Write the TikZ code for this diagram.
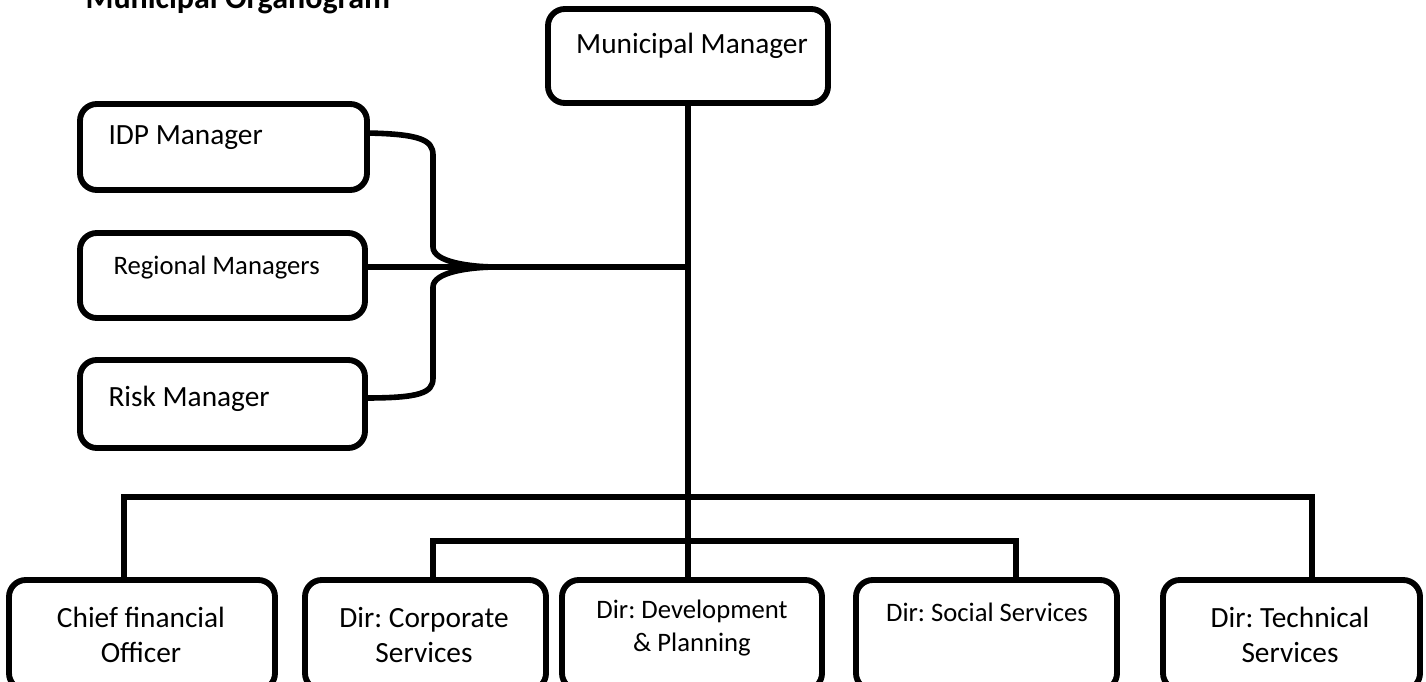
\documentclass[tikz,border=0pt]{standalone}
\usepackage{fontspec}
\setmainfont{Carlito}
\frenchspacing
\begin{document}
\begin{tikzpicture}[x=0.375pt,y=-0.375pt,
  box/.style={draw=black,line width=2.2pt,rounded corners=6.3pt,fill=white,
    inner sep=0pt,outer sep=0pt,anchor=north west},
  conn/.style={draw=black,line width=2.1pt},
  big/.style={font=\fontsize{11}{13.4}\selectfont,inner sep=0pt,align=center},
  small/.style={font=\fontsize{10}{12.2}\selectfont,inner sep=0pt,align=center},
  ttl/.style={font=\fontsize{12}{14}\selectfont\bfseries,inner sep=0pt,anchor=base west}]
\useasboundingbox (0,0) rectangle (1426,681);
% title (cut off at the top, as in the reference)
\node[ttl] (title) at (85,9) {Municipal Organogram};
% boxes
\node[box,minimum width=105pt,minimum height=35.25pt] (mm) at (548,9) {};
\node[box,minimum width=107.625pt,minimum height=32.25pt] (idp) at (80,104) {};
\node[box,minimum width=106.875pt,minimum height=31.875pt] (reg) at (80,233) {};
\node[box,minimum width=106.875pt,minimum height=33pt] (risk) at (80,360) {};
\node[box,minimum width=99.75pt,minimum height=41.25pt] (cfo) at (9,580) {};
\node[box,minimum width=90.375pt,minimum height=41.25pt] (corp) at (305,580) {};
\node[box,minimum width=97.5pt,minimum height=41.25pt] (dev) at (562,580) {};
\node[box,minimum width=97.875pt,minimum height=41.25pt] (soc) at (856,580) {};
\node[box,minimum width=96.375pt,minimum height=41.25pt] (tech) at (1163,580) {};
% texts
\node[big] (mmt) at (692,46) {Municipal Manager};
\node[big,anchor=west] (idpt) at (108,138) {IDP Manager};
\node[small,anchor=west] (regt) at (113,268) {Regional Managers};
\node[big,anchor=west] (riskt) at (108,399) {Risk Manager};
\node[big] (cfot) at (141,635) {Chief financial\\Officer};
\node[big] (corpt) at (424,635) {Dir: Corporate\\Services};
\node[small] (devt) at (692,628) {Dir: Development\\\& Planning};
\node[small] (soct) at (987,612) {Dir: Social Services};
\node[big] (techt) at (1290,635) {Dir: Technical\\Services};
% connector coordinates
\coordinate (tip) at (497,267);
\coordinate (jn) at (mm.south |- tip);
\coordinate (iy) at (0,133);
\coordinate (ry) at (0,398);
\coordinate (busA) at (124,497);
\coordinate (busB) at (1312,497);
\coordinate (busC) at (433,541);
\coordinate (busD) at (1016,541);
% connectors
\draw[conn] (mm.south) -- (mm.south |- dev.north);
\draw[conn] (reg.east |- tip) -- (jn);
\draw[conn] (idp.east |- iy) .. controls (420,134) and (433,140) .. (433,155)
   -- (433,247) .. controls (433,262) and (470,267) .. (tip);
\draw[conn] (tip) .. controls (470,267) and (433,272) .. (433,287)
   -- (433,378) .. controls (433,393) and (420,398) .. (risk.east |- ry);
\draw[conn] (cfo.north -| busA) -- (busA) -- (busB) -- (tech.north -| busB);
\draw[conn] (corp.north -| busC) -- (busC) -- (busD) -- (soc.north -| busD);
\end{tikzpicture}
\end{document}
